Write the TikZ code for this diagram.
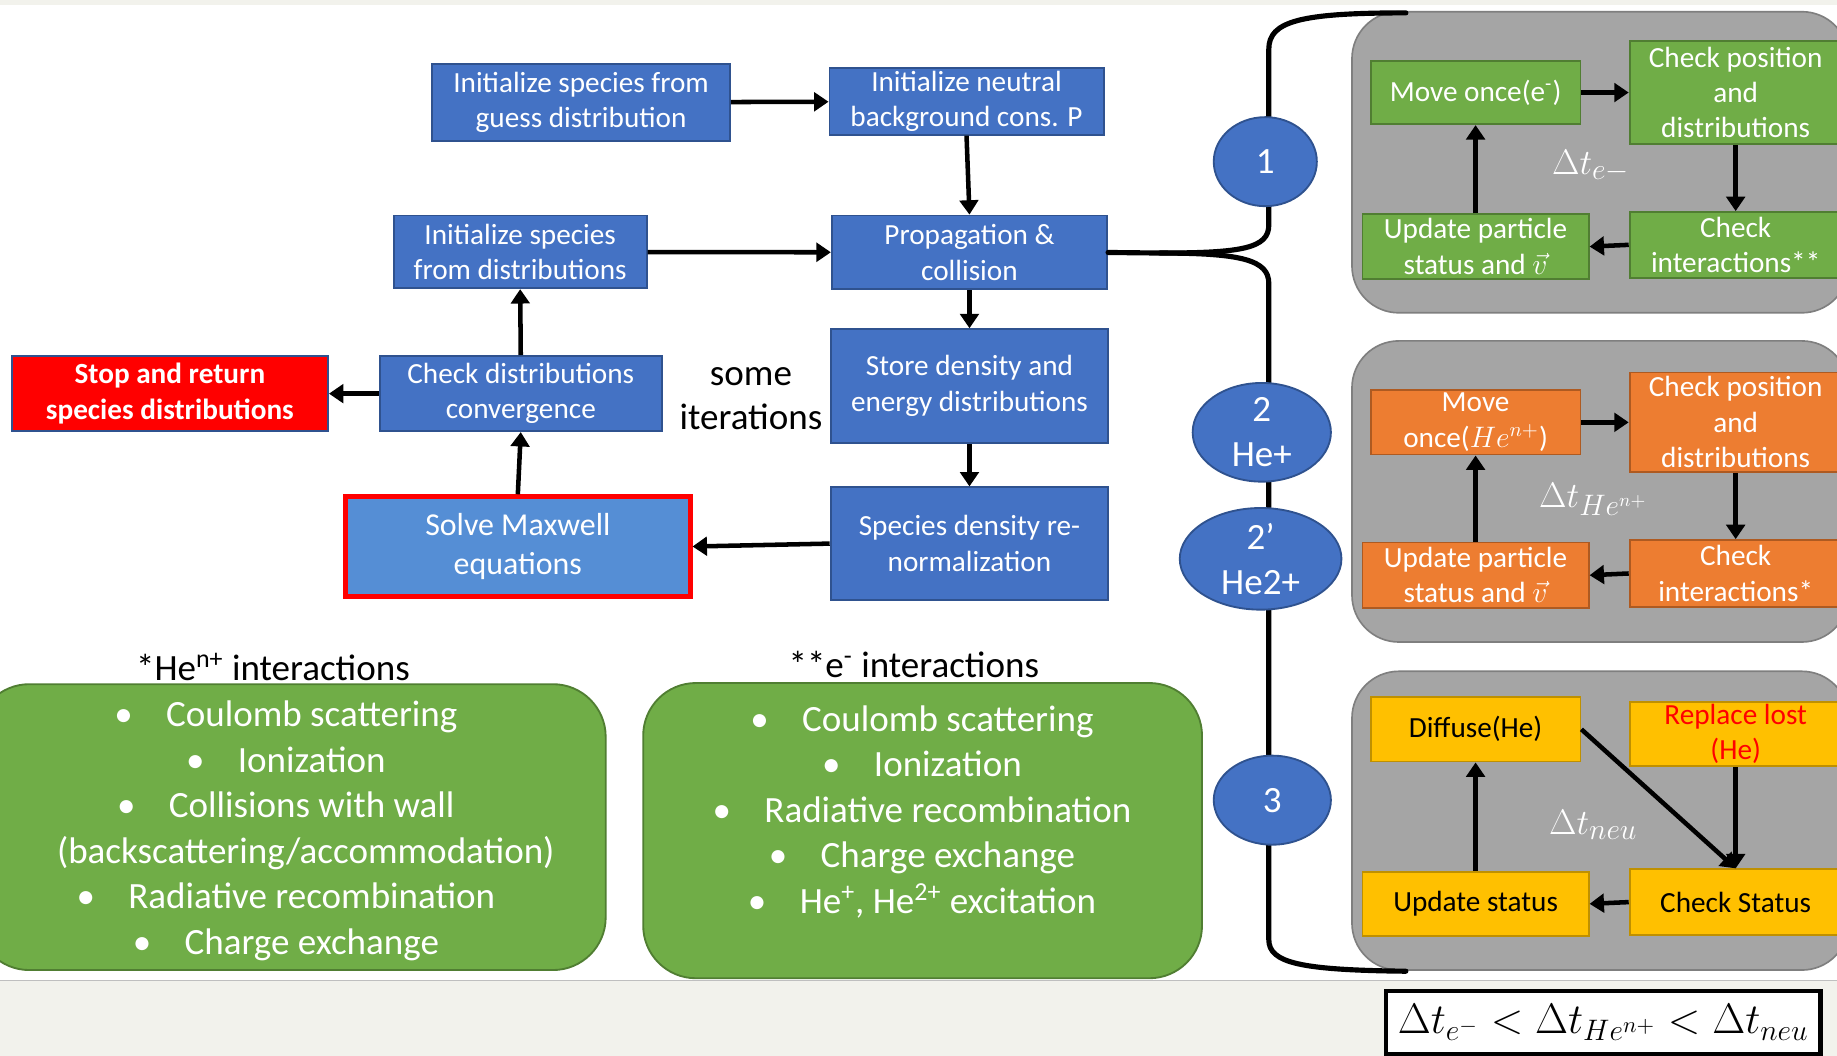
\documentclass[tikz,border=0pt]{standalone}
\usepackage{fontspec}
\setmainfont{Carlito}
\usetikzlibrary{arrows.meta,shapes.geometric}
\definecolor{bluef}{HTML}{4472C4}
\definecolor{blueb}{HTML}{2F528F}
\definecolor{lblue}{HTML}{558ED5}
\definecolor{grnf}{HTML}{70AD47}
\definecolor{grnb}{HTML}{507E32}
\definecolor{orgf}{HTML}{ED7D31}
\definecolor{orgb}{HTML}{AE5A21}
\definecolor{yelf}{HTML}{FFC000}
\definecolor{yelb}{HTML}{BF9000}
\definecolor{grayf}{HTML}{A5A5A5}
\definecolor{grayb}{HTML}{7F7F7F}
\definecolor{beige}{HTML}{F2F2EC}
\newcommand\fsbox{\fontsize{14.2}{17.2}\selectfont}
\newcommand\fsbig{\fontsize{18}{22.1}\selectfont}
\newcommand{\bx}[7]{\node[#6, minimum width={(#4-#2)*0.02cm}, minimum height={(#5-#3)*0.02cm}] (#1) at ({(#2+#4)/2},{(#3+#5)/2}) {#7};}
\begin{document}
\begin{tikzpicture}[x=0.02cm,y=-0.02cm,
  box/.style={draw=blueb, fill=bluef, line width=0.9pt, text=white, align=center, inner sep=0pt, font=\fsbox},
  gbox/.style={box, draw=grnb, fill=grnf},
  obox/.style={box, draw=orgb, fill=orgf},
  ybox/.style={box, draw=yelb, fill=yelf, text=black},
  circ/.style={ellipse, draw=blueb, fill=bluef, line width=0.9pt, text=white, align=center, inner sep=0pt, font=\fsbig},
  arr/.style={line width=2.2pt, -{Triangle[width=9pt,length=7pt]}},
  panel/.style={draw=grayb, fill=grayf, line width=0.8pt, rounded corners=0.8cm},
  lst/.style={draw=grnb, fill=grnf, line width=0.9pt, rounded corners=0.9cm, inner sep=0pt},
  lsttext/.style={text=white, align=center, font=\fsbig, inner sep=0pt},
  dtlabel/.style={text=white, font=\fontsize{19}{22}\selectfont, inner sep=0pt},
  brace/.style={line width=2.5pt, line cap=round}
]
\useasboundingbox (0,0) rectangle (1568,901);
\clip (0,0) rectangle (1568,901);
% background
\fill[white] (0,0) rectangle (1568,901);
\fill[beige] (0,0) rectangle (1568,4);
\fill[beige] (0,837) rectangle (1568,901);
\draw[black!25, line width=0.8pt] (0,837) -- (1568,837);

% gray panels
\draw[panel] (1154,10) rectangle (1578,267);
\draw[panel] (1154,291) rectangle (1578,548);
\draw[panel] (1154,573) rectangle (1578,828);

% main flow boxes
\bx{b1}{369}{55}{623}{120}{box}{Initialize species from\\guess distribution}
\bx{b2}{708}{58}{942}{115}{box}{Initialize neutral\\background cons. P}
\bx{b3}{336}{184}{552}{246}{box}{Initialize species\\from distributions}
\bx{b4}{710}{184}{945}{247}{box}{Propagation \&\\collision}
\bx{b5}{709}{281}{946}{378}{box}{Store density and\\energy distributions}
\bx{b6}{709}{416}{946}{512}{box}{Species density re-\\normalization}
\bx{b7}{324}{304}{565}{368}{box}{Check distributions\\convergence}
\bx{stop}{10}{304}{280}{368}{box, fill=red, font=\fsbox\bfseries}{Stop and return\\species distributions}
\bx{mx}{295}{424}{589}{509}{box, fill=lblue, draw=red, line width=2.4pt, font=\fontsize{15.5}{18.7}\selectfont}{Solve Maxwell\\equations}
\node[align=center, inner sep=0pt, font=\fontsize{18}{21.5}\selectfont] (iter) at (641,340) {some\\iterations};

% arrows main flow
\draw[arr] (b1) -- (b2);
\draw[arr] (b2.south) -- (b4.north);
\draw[arr] (b3) -- (b4);
\draw[arr] (b4.south) -- (b5.north);
\draw[arr] (b5.south) -- (b6.north);
\draw[arr] (b6.west) -- (mx.east);
\draw[arr] (mx.north) -- (b7.south);
\draw[arr] (b7.north) -- (b3.south);
\draw[arr] (b7.west) -- (stop.east);

% brace
\draw[brace] (b4.east) -- (990,216) .. controls (1060,216) and (1083,212) .. (1083,192) -- (1083,42) .. controls (1083,18) and (1110,11) .. (1200,11);
\draw[brace] (990,216) .. controls (1060,216) and (1083,222) .. (1083,242) -- (1083,802) .. controls (1083,822) and (1110,828) .. (1200,829);

% circles
\node[circ, minimum width=88*0.02cm, minimum height=76*0.02cm] (c1) at (1080,138) {1};
\node[circ, minimum width=118*0.02cm, minimum height=75*0.02cm] (c2) at (1077,369) {2\\He+};
\node[circ, minimum width=138*0.02cm, minimum height=72*0.02cm] (c2p) at (1076,477) {2’\\He2+};
\node[circ, minimum width=100*0.02cm, minimum height=76*0.02cm] (c3) at (1086,683) {3};

% panel 1 (electrons)
\bx{m1}{1170}{52}{1349}{106}{gbox}{Move once(e\textsuperscript{-})}
\bx{p1}{1391}{35}{1572}{123}{gbox}{Check position\\and\\distributions}
\bx{u1}{1163}{183}{1356}{238}{gbox}{Update particle\\status and $\vec{v}$}
\bx{i1}{1391}{181}{1572}{237}{gbox}{Check\\interactions**}
\node[dtlabel] (t1) at (1358,142) {$\Delta t_{e-}$};
\draw[arr] (m1.east) -- (p1.west);
\draw[arr] (p1.south) -- (i1.north);
\draw[arr] (i1.west) -- (u1.east);
\draw[arr] (u1.north) -- (m1.south);

% panel 2 (ions)
\bx{m2}{1170}{333}{1349}{388}{obox}{Move\\once($He^{n+}$)}
\bx{p2}{1391}{318}{1572}{403}{obox}{Check position\\and\\distributions}
\bx{u2}{1163}{463}{1356}{519}{obox}{Update particle\\status and $\vec{v}$}
\bx{i2}{1391}{461}{1572}{518}{obox}{Check\\interactions*}
\node[dtlabel] (t2) at (1360,426) {$\Delta t_{He^{n+}}$};
\draw[arr] (m2.east) -- (p2.west);
\draw[arr] (p2.south) -- (i2.north);
\draw[arr] (i2.west) -- (u2.east);
\draw[arr] (u2.north) -- (m2.south);

% panel 3 (neutrals)
\bx{d3}{1170}{595}{1349}{650}{ybox}{Diffuse(He)}
\bx{r3}{1391}{599}{1572}{654}{ybox, text=red}{Replace lost\\(He)}
\bx{u3}{1163}{744}{1356}{799}{ybox}{Update status}
\bx{k3}{1391}{742}{1572}{798}{ybox}{Check Status}
\node[dtlabel] (t3) at (1360,704) {$\Delta t_{neu}$};
\draw[arr] (d3.east) -- (k3.north);
\draw[arr] (r3.south) -- (k3.north);
\draw[arr] (k3.west) -- (u3.east);
\draw[arr] (u3.north) -- (d3.south);

% interaction lists
\node[font=\fsbig, inner sep=0pt] (h1) at (233,569) {*He\textsuperscript{n+} interactions};
\node[font=\fsbig, inner sep=0pt] (h2) at (780,567) {**e\textsuperscript{-} interactions};
\bx{l1}{-20}{584}{517}{828}{lst}{}
\bx{l2}{549}{583}{1026}{835}{lst}{}
\node[lsttext] (l1t) at (244,709) {\textbullet\hspace{0.9em}Coulomb scattering\\
\textbullet\hspace{0.9em}Ionization\\
\textbullet\hspace{0.9em}Collisions with wall\\
\hspace*{0.68cm}(backscattering/accommodation)\\
\textbullet\hspace{0.9em}Radiative recombination\\
\textbullet\hspace{0.9em}Charge exchange};
\node[lsttext] (l2t) at (787,693) {\textbullet\hspace{0.9em}Coulomb scattering\\
\textbullet\hspace{0.9em}Ionization\\
\textbullet\hspace{0.9em}Radiative recombination\\
\textbullet\hspace{0.9em}Charge exchange\\
\textbullet\hspace{0.9em}He\textsuperscript{+}, He\textsuperscript{2+} excitation};

% time-step relation
\bx{eq}{1183}{846}{1554}{900}{draw=black, fill=white, line width=2.2pt, inner sep=0pt, font=\fontsize{21}{24}\selectfont}{$\Delta t_{e^-} < \Delta t_{He^{n+}} < \Delta t_{neu}$}
\end{tikzpicture}
\end{document}
